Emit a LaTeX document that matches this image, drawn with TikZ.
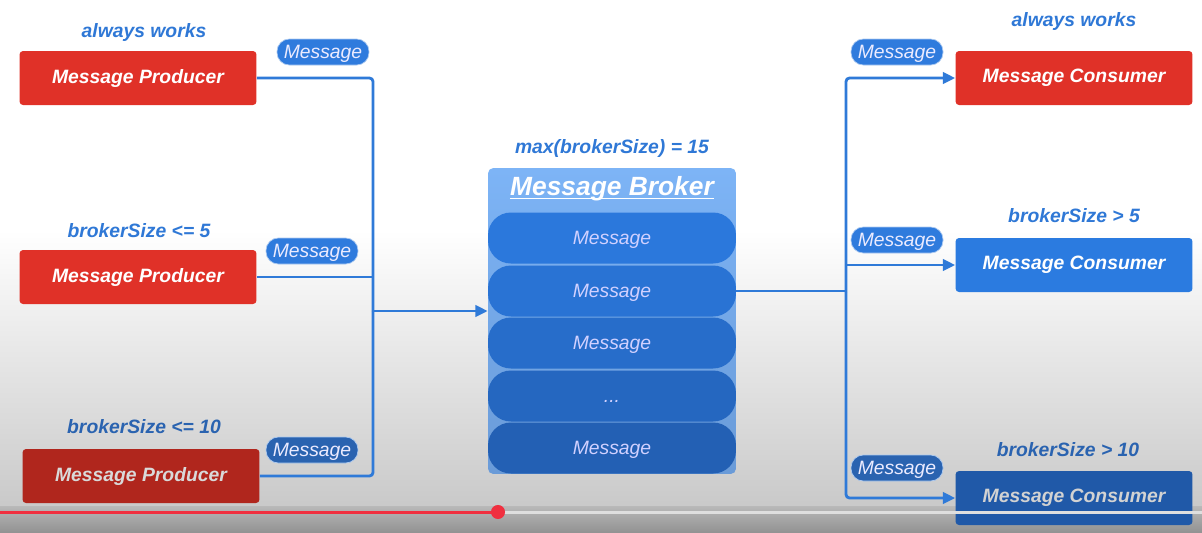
\documentclass[tikz,border=0pt]{standalone}
\usepackage{fontspec}
\setmainfont{Liberation Sans}
\usetikzlibrary{arrows.meta}
\definecolor{prodred}{HTML}{E03128}
\definecolor{prodreddark}{HTML}{B0261D}
\definecolor{condblue}{HTML}{2F78D6}
\definecolor{condbluedark}{HTML}{2A63B0}
\definecolor{pillblue}{HTML}{2F7BDD}
\definecolor{flowblue}{HTML}{2F7AD8}
\definecolor{brokertop}{HTML}{7DB4F6}
\definecolor{brokerbot}{HTML}{6A9BD8}
\definecolor{slottop}{HTML}{2B78DC}
\definecolor{slotbot}{HTML}{2360B4}
\definecolor{consblue}{HTML}{2B7BE0}
\definecolor{consbluedark}{HTML}{2059A8}
\definecolor{barred}{HTML}{F03040}
\tikzset{
  box/.style={rectangle, rounded corners=2pt, minimum width=4.74cm, minimum height=1.08cm, inner sep=0pt, text=white},
  cond/.style={text=condblue},
  msg/.style={rectangle, rounded corners=7pt, fill=pillblue, draw=white!60!pillblue, line width=0.4pt, text=white!92!blue, minimum width=1.84cm, minimum height=0.52cm, inner sep=0pt, text depth=0pt, font=\fontsize{11}{13}\selectfont\itshape},
  slot/.style={rectangle, rounded corners=13pt, minimum width=4.96cm, minimum height=1.02cm, inner sep=0pt, text height=7.9pt, text depth=0pt, text=white!82!blue, font=\fontsize{11}{13}\selectfont\itshape},
  flow/.style={draw=flowblue, line width=1.6pt, rounded corners=2pt}
}
\begin{document}
\begin{tikzpicture}[x=0.02cm, y=-0.02cm, font=\fontsize{11}{13}\selectfont\bfseries\itshape, line join=round, >={Triangle[length=7pt,width=6.5pt]}]
  % background of the screen
  \fill[white] (0,0) rectangle (1202,230);
  \shade[top color=white, bottom color=gray!42] (0,230) rectangle (1202,506);
  \shade[top color=gray!55, bottom color=gray!85] (0,506) rectangle (1202,532);
  \useasboundingbox (0,0) rectangle (1202,532);

  % producers
  \node[cond] (t1) at (144,32) {always works};
  \node[box, fill=prodred] (p1) at (138,78) {Message Producer};
  \node[cond] (t2) at (139,231) {brokerSize <= 5};
  \node[box, fill=prodred] (p2) at (138,277) {Message Producer};
  \node[cond, text=condbluedark] (t3) at (144,427) {brokerSize <= 10};
  \node[box, fill=prodreddark, text=gray!30] (p3) at (141,476) {Message Producer};

  \node[msg] (e1) at (323,52) {Message};
  \node[msg] (e2) at (312,251) {Message};
  \node[msg, fill=condbluedark] (e3) at (312,450) {Message};

  % broker
  \node[cond] (tb) at (612,148) {max(brokerSize) = 15};
  \node[rectangle, rounded corners=3pt, top color=brokertop, bottom color=brokerbot, minimum width=4.96cm, minimum height=6.12cm] (broker) at (612,321) {};
  \node[text=white, inner sep=0pt, font=\fontsize{15}{17}\selectfont\bfseries\itshape] (title) at (612,189) {Message Broker};
  \draw[white, line width=0.9pt] ([yshift=-1.5pt]title.base west) -- ([yshift=-1.5pt]title.base east);
  \node[slot, fill=slottop] (m1) at (612,238) {Message};
  \node[slot, fill=slottop!80!slotbot] (m2) at (612,291) {Message};
  \node[slot, fill=slottop!55!slotbot] (m3) at (612,343) {Message};
  \node[slot, fill=slottop!30!slotbot] (m4) at (612,396) {...};
  \node[slot, fill=slotbot] (m5) at (612,448) {Message};

  % consumers
  \node[cond] (u1) at (1074,21) {always works};
  \node[box, fill=prodred] (c1) at (1074,78) {Message Consumer};
  \node[cond] (u2) at (1074,216) {brokerSize > 5};
  \node[box, fill=consblue] (c2) at (1074,265) {Message Consumer};
  \node[cond, text=condbluedark] (u3) at (1068,450) {brokerSize > 10};
  \node[box, fill=consbluedark, text=gray!35] (c3) at (1074,498) {Message Consumer};

  \node[msg] (f1) at (897,52) {Message};
  \node[msg] (f2) at (897,240) {Message};
  \node[msg, fill=condbluedark] (f3) at (897,468) {Message};

  % connections
  \coordinate (jin) at (373,311);
  \coordinate (jout) at (846,292);
  \draw[flow] (p1.east) -| (jin);
  \draw[flow] (p2.east) -- (p2.east -| jin);
  \draw[flow] (p3.east) -| (jin);
  \draw[flow,->] (jin) -- (jin -| broker.west);
  \draw[flow] (m2.east) -- (m2.east -| jout);
  \draw[flow,->] (jout) |- (c1.west);
  \draw[flow,->] (jout |- c2.west) -- (c2.west);
  \draw[flow,->] (jout) |- (c3.west);

  % player bar
  \draw[gray!25, line width=1.7pt] (498,512) -- (1202,512);
  \draw[barred, line width=1.7pt] (0,512) -- (498,512);
  \fill[barred] (498,512) circle (4pt);
\end{tikzpicture}
\end{document}
